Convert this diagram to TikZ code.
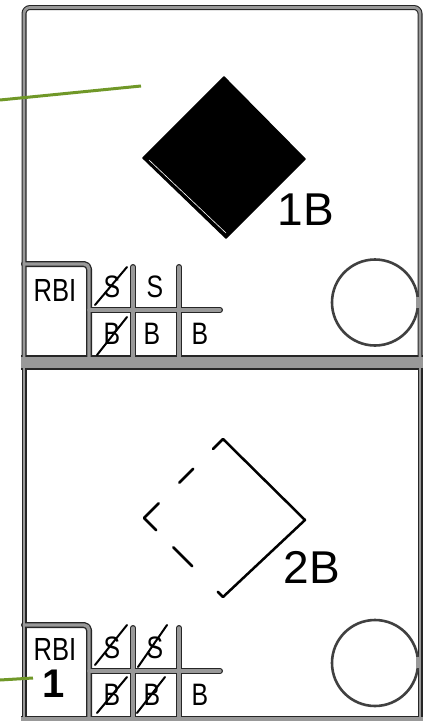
\documentclass[tikz,border=0pt]{standalone}
\usepackage{graphicx}
\usepackage{fontspec}
\setmainfont{Liberation Sans}
\definecolor{leaf}{RGB}{112,152,40}
\definecolor{scan}{gray}{0.6}
\newcommand{\narrow}[1]{\scalebox{0.8}[1]{#1}}
\tikzset{
  cellletter/.style={inner sep=0pt, font=\fontsize{31}{31}\selectfont},
  rbitext/.style={inner sep=0pt, font=\fontsize{32}{32}\selectfont},
  baselabel/.style={inner sep=0pt, font=\fontsize{46}{46}\selectfont},
  strike/.style={draw=black, line width=2pt},
  leader/.style={draw=leaf, line width=3pt, line cap=butt},
  tally/.style={draw=black!75, line width=2.6pt},
}
\begin{document}
\begin{tikzpicture}[x=1pt,y=-1pt,line cap=round,line join=round]
\useasboundingbox (0,0) rectangle (423,721);
\fill[white] (0,0) rectangle (423,721);

% frames and grids, two passes (dark edge, grey core)
\foreach \fw/\bw/\tw/\gw/\lc in {5/15/9/6/black!85, 2.8/11.5/6/3.4/scan}{
  \begin{scope}[draw=\lc]
    \draw[line width=\fw pt, rounded corners=6pt]
      (24,362) -- (24,7.5) -- (420,7.5) -- (420,362);
    \draw[line width=\fw pt] (24,362) -- (24,721);
    \draw[line width=\fw pt] (420,362) -- (420,721);
    \draw[line width=\bw pt, line cap=butt] (21,362.5) -- (423,362.5);
    \draw[line width=\tw pt, line cap=butt] (21,720) -- (423,720);
    \foreach \o/\e in {0/362, 361/720}{
      \draw[line width=\gw pt, rounded corners=5pt]
        (24,264+\o) -- (89,264+\o) -- (89,\e);
      \draw[line width=\gw pt] (133,267+\o) -- (133,\e);
      \draw[line width=\gw pt] (179,267+\o) -- (179,\e);
      \draw[line width=\gw pt] (89,310+\o) -- (220,310+\o);
    }
  \end{scope}
}

% circles
\draw[tally] (375,302.5) circle (43);
\draw[tally] (375,663) circle (43);
\fill[scan] (416,297) rectangle (420,308);
\fill[scan] (416,657) rectangle (420,668);

% diamond 1 (filled)
\fill[black, draw=black, line width=1.5pt] (224,77) -- (305,159) -- (226,238) -- (143,158) -- cycle;
\draw[white, line width=0.6pt] (149,160) -- (226,233);
\node[baselabel] (lab1) at (306,210) {1B};

% diamond 2 (half dashed)
\draw[line width=2.5pt] (223,439) -- (305,520) -- (223,597);
\draw[line width=2.5pt, dash pattern=on 14pt off 28pt on 20pt off 29pt on 38pt off 24pt on 27pt off 36pt on 12pt]
  (223,439) -- (144,518) -- (223,597);
\node[baselabel] (lab2) at (312,567) {2B};

% card 1 tallies
\node[rbitext] (rbi1) at (55,290) {\narrow{RBI}};
\node[cellletter] (s11) at (112,287) {\narrow{S}};
\node[cellletter] (s12) at (155,287) {\narrow{S}};
\node[cellletter] (b11) at (112,334) {\narrow{B}};
\node[cellletter] (b12) at (152,334) {\narrow{B}};
\node[cellletter] (b13) at (200,334) {\narrow{B}};
\draw[strike] (95,305) -- (127,267);
\draw[strike] (97,355) -- (127,317);

% card 2 tallies
\node[rbitext] (rbi2) at (55,649) {\narrow{RBI}};
\node[inner sep=0pt, font=\fontsize{40}{40}\selectfont\bfseries] (runs) at (54,684) {1};
\node[cellletter] (s21) at (112,648) {\narrow{S}};
\node[cellletter] (s22) at (155,648) {\narrow{S}};
\node[cellletter] (b21) at (112,695) {\narrow{B}};
\node[cellletter] (b22) at (152,695) {\narrow{B}};
\node[cellletter] (b23) at (200,695) {\narrow{B}};
\draw[strike] (95,665) -- (127,625);
\draw[strike] (138,667) -- (167,625);
\draw[strike] (97,713) -- (127,677);
\draw[strike] (137,713) -- (165,677);

% green leader lines
\coordinate (g1a) at (0,100);
\coordinate (g1b) at (141,86);
\coordinate (g2a) at (0,680);
\coordinate (g2b) at (33,678);
\draw[leader] (g1a) -- (g1b);
\draw[leader] (g2a) -- (g2b);
\end{tikzpicture}
\end{document}
